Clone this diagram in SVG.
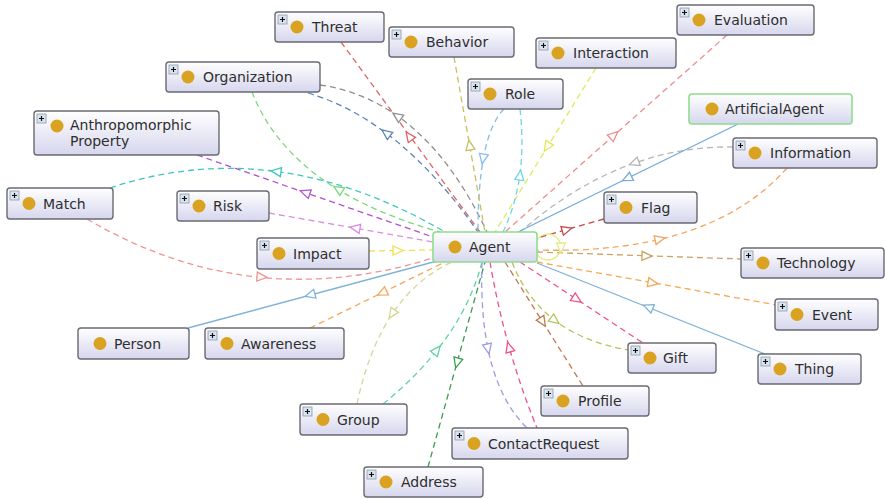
<svg xmlns="http://www.w3.org/2000/svg" xmlns:xlink="http://www.w3.org/1999/xlink" width="885" height="499" viewBox="0 0 885 499">
  <style>
    .box { fill: url(#boxFill); stroke: #6a6a72; stroke-width: 1.4; }
    .box.sel { stroke: #8fdc8f; stroke-width: 1.6; }
    .dot { fill: #d9a321; }
    .lbl { font-family: "DejaVu Sans", Verdana, sans-serif; font-size: 14px; fill: #2e2e2e; }
    .e { fill: none; stroke-width: 1.3; stroke-dasharray: 6 4; }
    .s { fill: none; stroke-width: 1.3; }
    .tri { fill: #ffffff; stroke-width: 1.3; }
  </style>
  <defs>
    <linearGradient id="boxFill" x1="0" y1="0" x2="0" y2="1">
      <stop offset="0" stop-color="#ffffff"/>
      <stop offset="1" stop-color="#d6d6ee"/>
    </linearGradient>
    <path id="tri" d="M5,0 L-5,-4.5 L-5,4.5 Z"/>
    <g id="plus">
      <rect width="9" height="9" fill="#dbe4ee" stroke="#8a9aaa" stroke-width="0.8"/>
      <path d="M4.5 2V7M2 4.5H7" stroke="#111" stroke-width="1.2"/>
    </g>
  </defs>
  <rect width="885" height="499" fill="#ffffff"/>

  <!-- connectors -->
  <g id="edges">
    <!-- Threat -->
    <path class="e" stroke="#e06464" d="M341,42 L480,232"/>
    <use href="#tri" class="tri" stroke="#e06464" transform="translate(409,136) rotate(-126)"/>
    <!-- Organization (gray, blue, green) -->
    <path class="e" stroke="#8e8e8e" d="M320,85 Q425,100 487,232"/>
    <use href="#tri" class="tri" stroke="#8e8e8e" transform="translate(397,116) rotate(-145)"/>
    <path class="e" stroke="#5b84b1" d="M308,93 Q400,120 478,232"/>
    <use href="#tri" class="tri" stroke="#5b84b1" transform="translate(386,133) rotate(-143)"/>
    <path class="e" stroke="#7bd87b" d="M252,92 Q290,190 440,232"/>
    <use href="#tri" class="tri" stroke="#7bd87b" transform="translate(338,189) rotate(-148)"/>
    <!-- Anthropomorphic Property -->
    <path class="e" stroke="#b450d2" d="M197,155 L433,237"/>
    <use href="#tri" class="tri" stroke="#b450d2" transform="translate(305,192.5) rotate(199)"/>
    <!-- Match -->
    <path class="e" stroke="#3fc6bf" d="M110,188 Q275,133 445,232"/>
    <use href="#tri" class="tri" stroke="#3fc6bf" transform="translate(276,171.5) rotate(187)"/>
    <path class="e" stroke="#f09494" d="M87,219 Q250,315 433,258"/>
    <use href="#tri" class="tri" stroke="#f09494" transform="translate(262,277) rotate(4)"/>
    <!-- Risk -->
    <path class="e" stroke="#d98ee2" d="M269,213 L433,242"/>
    <use href="#tri" class="tri" stroke="#d98ee2" transform="translate(355,228) rotate(190)"/>
    <!-- Impact -->
    <path class="e" stroke="#f0e04e" d="M369,251 L433,250"/>
    <use href="#tri" class="tri" stroke="#f0e04e" transform="translate(398,250.5) rotate(0)"/>
    <!-- Person -->
    <path class="s" stroke="#7fb2d8" d="M188,328 L437,261"/>
    <use href="#tri" class="tri" stroke="#7fb2d8" transform="translate(310,295) rotate(165)"/>
    <!-- Awareness -->
    <path class="e" stroke="#f5a65a" d="M310,328 L445,262"/>
    <use href="#tri" class="tri" stroke="#f5a65a" transform="translate(382,293) rotate(154)"/>
    <!-- Group -->
    <path class="e" stroke="#d6d696" d="M357,404 Q380,295 452,262"/>
    <use href="#tri" class="tri" stroke="#d6d696" transform="translate(392,314) rotate(124)"/>
    <path class="e" stroke="#5fd3a0" d="M383,404 Q462,340 482,262"/>
    <use href="#tri" class="tri" stroke="#5fd3a0" transform="translate(437,350) rotate(-52)"/>
    <!-- Address -->
    <path class="e" stroke="#3a9f4e" d="M428,467 L485,262"/>
    <use href="#tri" class="tri" stroke="#3a9f4e" transform="translate(457,363) rotate(105.5)"/>
    <!-- ContactRequest -->
    <path class="e" stroke="#9c9ce4" d="M482,262 Q478,380 527,428"/>
    <use href="#tri" class="tri" stroke="#9c9ce4" transform="translate(488,349) rotate(78)"/>
    <path class="e" stroke="#f0508a" d="M490,262 Q505,350 537,428"/>
    <use href="#tri" class="tri" stroke="#f0508a" transform="translate(509,347) rotate(-106)"/>
    <!-- Profile -->
    <path class="e" stroke="#c27a52" d="M505,262 L583,386"/>
    <use href="#tri" class="tri" stroke="#c27a52" transform="translate(542.7,322) rotate(58)"/>
    <!-- Gift -->
    <path class="e" stroke="#b4c45a" d="M512,262 Q540,335 628,350"/>
    <use href="#tri" class="tri" stroke="#b4c45a" transform="translate(555,320.5) rotate(37)"/>
    <path class="e" stroke="#f0508a" d="M520,262 L643,343"/>
    <use href="#tri" class="tri" stroke="#f0508a" transform="translate(577,299.5) rotate(33)"/>
    <!-- Thing -->
    <path class="s" stroke="#7fb2d8" d="M537,263 L765,354"/>
    <use href="#tri" class="tri" stroke="#7fb2d8" transform="translate(648,307) rotate(202)"/>
    <!-- Event -->
    <path class="e" stroke="#f5a858" d="M537,262 L777,305"/>
    <use href="#tri" class="tri" stroke="#f5a858" transform="translate(653,283) rotate(10)"/>
    <!-- Technology -->
    <path class="e" stroke="#c9a264" d="M537,252 L741,259"/>
    <use href="#tri" class="tri" stroke="#c9a264" transform="translate(647,256) rotate(2)"/>
    <!-- Information -->
    <path class="e" stroke="#f0a866" d="M787,168 Q710,255 537,250"/>
    <use href="#tri" class="tri" stroke="#f0a866" transform="translate(660,239) rotate(-13)"/>
    <path class="e" stroke="#b6b6b6" d="M733,147 Q620,145 520,232"/>
    <use href="#tri" class="tri" stroke="#b6b6b6" transform="translate(634,163) rotate(160)"/>
    <!-- ArtificialAgent -->
    <path class="s" stroke="#72aadc" d="M738,124 L518,232"/>
    <use href="#tri" class="tri" stroke="#72aadc" transform="translate(627,178.5) rotate(154)"/>
    <!-- Flag -->
    <path class="e" stroke="#c84848" d="M604,219 L537,238"/>
    <use href="#tri" class="tri" stroke="#c84848" transform="translate(567,229.5) rotate(-16)"/>
    <!-- Evaluation -->
    <path class="e" stroke="#f08c8c" d="M727,35 L505,232"/>
    <use href="#tri" class="tri" stroke="#f08c8c" transform="translate(614,135) rotate(-41.6)"/>
    <!-- Interaction -->
    <path class="e" stroke="#e0e85c" d="M596,68 L495,232"/>
    <use href="#tri" class="tri" stroke="#e0e85c" transform="translate(547,147) rotate(121.6)"/>
    <!-- Role -->
    <path class="e" stroke="#88bce8" d="M504,109 Q478,135 478,232"/>
    <use href="#tri" class="tri" stroke="#88bce8" transform="translate(483,159) rotate(100)"/>
    <path class="e" stroke="#6fd6e6" d="M520,109 Q528,180 503,232"/>
    <use href="#tri" class="tri" stroke="#6fd6e6" transform="translate(520,175) rotate(-82)"/>
    <!-- Behavior -->
    <path class="e" stroke="#c8c060" d="M454,57 L485,232"/>
    <use href="#tri" class="tri" stroke="#c8c060" transform="translate(469.6,145) rotate(-100)"/>
    <!-- Agent self loop -->
    <path class="s" stroke="#e2ec84" d="M537,240 A13,13 0 1 1 537,254"/>
    <use href="#tri" class="tri" stroke="#e2ec84" transform="translate(561,248) rotate(90)"/>
  </g>

  <!-- nodes -->
  <g id="n-threat" transform="translate(275,12)">
    <rect class="box" width="109" height="30" rx="3"/>
    <use href="#plus" x="3" y="3"/>
    <circle class="dot" cx="22" cy="15" r="6.5"/>
    <text class="lbl" x="37" y="20">Threat</text>
  </g>
  <g id="n-behavior" transform="translate(389,27)">
    <rect class="box" width="125" height="30" rx="3"/>
    <use href="#plus" x="3" y="3"/>
    <circle class="dot" cx="22" cy="15" r="6.5"/>
    <text class="lbl" x="37" y="20">Behavior</text>
  </g>
  <g id="n-organization" transform="translate(166,62)">
    <rect class="box" width="154" height="30" rx="3"/>
    <use href="#plus" x="3" y="3"/>
    <circle class="dot" cx="22" cy="15" r="6.5"/>
    <text class="lbl" x="37" y="20">Organization</text>
  </g>
  <g id="n-role" transform="translate(468,79)">
    <rect class="box" width="95" height="30" rx="3"/>
    <use href="#plus" x="3" y="3"/>
    <circle class="dot" cx="22" cy="15" r="6.5"/>
    <text class="lbl" x="37" y="20">Role</text>
  </g>
  <g id="n-interaction" transform="translate(536,38)">
    <rect class="box" width="140" height="30" rx="3"/>
    <use href="#plus" x="3" y="3"/>
    <circle class="dot" cx="22" cy="15" r="6.5"/>
    <text class="lbl" x="37" y="20">Interaction</text>
  </g>
  <g id="n-evaluation" transform="translate(677,5)">
    <rect class="box" width="137" height="30" rx="3"/>
    <use href="#plus" x="3" y="3"/>
    <circle class="dot" cx="22" cy="15" r="6.5"/>
    <text class="lbl" x="37" y="20">Evaluation</text>
  </g>
  <g id="n-artificialagent" transform="translate(689,94)">
    <rect class="box sel" width="163" height="30" rx="3"/>
    <circle class="dot" cx="23" cy="15" r="6.5"/>
    <text class="lbl" x="36" y="20">ArtificialAgent</text>
  </g>
  <g id="n-information" transform="translate(733,138)">
    <rect class="box" width="144" height="30" rx="3"/>
    <use href="#plus" x="3" y="3"/>
    <circle class="dot" cx="22" cy="15" r="6.5"/>
    <text class="lbl" x="37" y="20">Information</text>
  </g>
  <g id="n-anthropomorphic" transform="translate(34,111)">
    <rect class="box" width="185" height="44" rx="3"/>
    <use href="#plus" x="3" y="3"/>
    <circle class="dot" cx="23" cy="15" r="6.5"/>
    <text class="lbl" x="36" y="19">Anthropomorphic</text>
    <text class="lbl" x="36" y="35">Property</text>
  </g>
  <g id="n-match" transform="translate(7,188)">
    <rect class="box" width="106" height="31" rx="3"/>
    <use href="#plus" x="3" y="3"/>
    <circle class="dot" cx="22" cy="15.5" r="6.5"/>
    <text class="lbl" x="36" y="20.5">Match</text>
  </g>
  <g id="n-risk" transform="translate(177,191)">
    <rect class="box" width="92" height="30" rx="3"/>
    <use href="#plus" x="3" y="3"/>
    <circle class="dot" cx="22" cy="15" r="6.5"/>
    <text class="lbl" x="36" y="20">Risk</text>
  </g>
  <g id="n-impact" transform="translate(257,238)">
    <rect class="box" width="112" height="31" rx="3"/>
    <use href="#plus" x="3" y="3"/>
    <circle class="dot" cx="22" cy="15.5" r="6.5"/>
    <text class="lbl" x="36" y="20.5">Impact</text>
  </g>
  <g id="n-agent" transform="translate(433,232)">
    <rect class="box sel" width="104" height="30" rx="3"/>
    <circle class="dot" cx="22" cy="15" r="6.5"/>
    <text class="lbl" x="36" y="20">Agent</text>
  </g>
  <g id="n-flag" transform="translate(604,192)">
    <rect class="box" width="93" height="31" rx="3"/>
    <use href="#plus" x="3" y="3"/>
    <circle class="dot" cx="22" cy="15.5" r="6.5"/>
    <text class="lbl" x="37" y="20.5">Flag</text>
  </g>
  <g id="n-technology" transform="translate(741,248)">
    <rect class="box" width="143" height="30" rx="3"/>
    <use href="#plus" x="3" y="3"/>
    <circle class="dot" cx="22" cy="15" r="6.5"/>
    <text class="lbl" x="36" y="20">Technology</text>
  </g>
  <g id="n-event" transform="translate(775,299)">
    <rect class="box" width="103" height="31" rx="3"/>
    <use href="#plus" x="3" y="3"/>
    <circle class="dot" cx="22" cy="15.5" r="6.5"/>
    <text class="lbl" x="37" y="20.5">Event</text>
  </g>
  <g id="n-person" transform="translate(78,328)">
    <rect class="box" width="111" height="31" rx="3"/>
    <circle class="dot" cx="22" cy="15.5" r="6.5"/>
    <text class="lbl" x="36" y="20.5">Person</text>
  </g>
  <g id="n-awareness" transform="translate(205,328)">
    <rect class="box" width="139" height="31" rx="3"/>
    <use href="#plus" x="3" y="3"/>
    <circle class="dot" cx="22" cy="15.5" r="6.5"/>
    <text class="lbl" x="36" y="20.5">Awareness</text>
  </g>
  <g id="n-gift" transform="translate(628,343)">
    <rect class="box" width="88" height="30" rx="3"/>
    <use href="#plus" x="3" y="3"/>
    <circle class="dot" cx="22" cy="15" r="6.5"/>
    <text class="lbl" x="35" y="20">Gift</text>
  </g>
  <g id="n-thing" transform="translate(758,354)">
    <rect class="box" width="103" height="30" rx="3"/>
    <use href="#plus" x="3" y="3"/>
    <circle class="dot" cx="22" cy="15" r="6.5"/>
    <text class="lbl" x="37" y="20">Thing</text>
  </g>
  <g id="n-profile" transform="translate(541,386)">
    <rect class="box" width="108" height="30" rx="3"/>
    <use href="#plus" x="3" y="3"/>
    <circle class="dot" cx="22" cy="15" r="6.5"/>
    <text class="lbl" x="37" y="20">Profile</text>
  </g>
  <g id="n-group" transform="translate(300,404)">
    <rect class="box" width="107" height="31" rx="3"/>
    <use href="#plus" x="3" y="3"/>
    <circle class="dot" cx="23" cy="15.5" r="6.5"/>
    <text class="lbl" x="37" y="20.5">Group</text>
  </g>
  <g id="n-contactrequest" transform="translate(452,428)">
    <rect class="box" width="176" height="31" rx="3"/>
    <use href="#plus" x="3" y="3"/>
    <circle class="dot" cx="22" cy="15.5" r="6.5"/>
    <text class="lbl" x="36" y="20.5">ContactRequest</text>
  </g>
  <g id="n-address" transform="translate(364,467)">
    <rect class="box" width="119" height="30" rx="3"/>
    <use href="#plus" x="3" y="3"/>
    <circle class="dot" cx="22" cy="15" r="6.5"/>
    <text class="lbl" x="37" y="20">Address</text>
  </g>
</svg>
